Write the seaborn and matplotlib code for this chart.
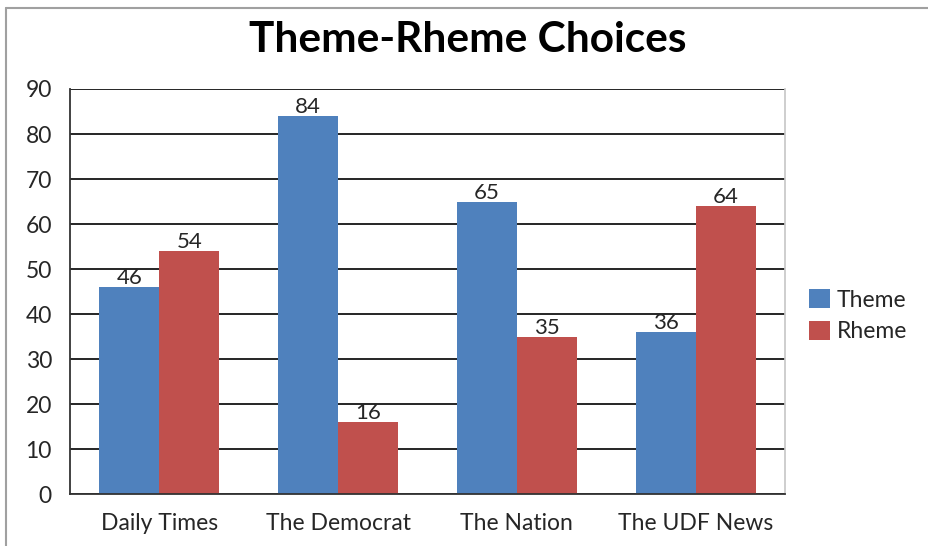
import pandas as pd
import matplotlib.pyplot as plt
import seaborn as sns
from matplotlib.lines import Line2D

# Dữ liệu
newspapers = ['Daily Times', 'The Democrat', 'The Nation', 'The UDF News']
theme = [46, 84, 65, 36]
rheme = [54, 16, 35, 64]
series = ['Theme', 'Rheme']
colors = ['#4F81BD', '#C0504D']

df = pd.DataFrame({
    'Paper': newspapers * 2,
    'Value': theme + rheme,
    'Type': [series[0]] * len(theme) + [series[1]] * len(rheme),
})

sns.set_theme(style="white")
plt.rcParams['font.family'] = ['Lato', 'DejaVu Sans']

fig = plt.figure(figsize=(9.29, 5.46), dpi=100)
ax = fig.add_axes([0.0753, 0.0952, 0.7697, 0.7418])

sns.barplot(data=df, x='Paper', y='Value', hue='Type', palette=colors,
            width=0.67, saturation=1, linewidth=0, ax=ax)

for c in ax.containers:
    ax.bar_label(c, fontsize=16, color='#262626', padding=-1)

ax.set_ylim(0, 90)
ax.set_yticks(range(0, 91, 10))
ax.yaxis.grid(True, color='black', linewidth=1.2)
ax.set_axisbelow(True)
ax.set_xlabel('')
ax.set_ylabel('')
ax.tick_params(axis='both', labelsize=16.5, colors='#262626', length=0)
ax.tick_params(axis='x', pad=14)
ax.tick_params(axis='y', pad=13)

for s in ['left', 'bottom']:
    ax.spines[s].set_color('#333333')
    ax.spines[s].set_linewidth(1.3)
ax.spines['right'].set_color('#c8c8c8')
ax.spines['top'].set_visible(False)

ax.legend(loc='center left', bbox_to_anchor=(1.005, 0.44), frameon=False,
          fontsize=16.5, handlelength=0.9, handleheight=0.9, handletextpad=0.3,
          labelspacing=0.45)

fig.suptitle('Theme-Rheme Choices', x=0.504, y=0.962, fontsize=30.5,
             fontweight='bold', color='black')

# khung viền xám của hình
fig.add_artist(Line2D([6/929, 6/929], [0, 1 - 8/546], color='#a0a0a0', linewidth=1.5))
fig.add_artist(Line2D([6/929, 1], [1 - 8/546, 1 - 8/546], color='#a0a0a0', linewidth=1.5))

fig.savefig('out.png', dpi=100)
